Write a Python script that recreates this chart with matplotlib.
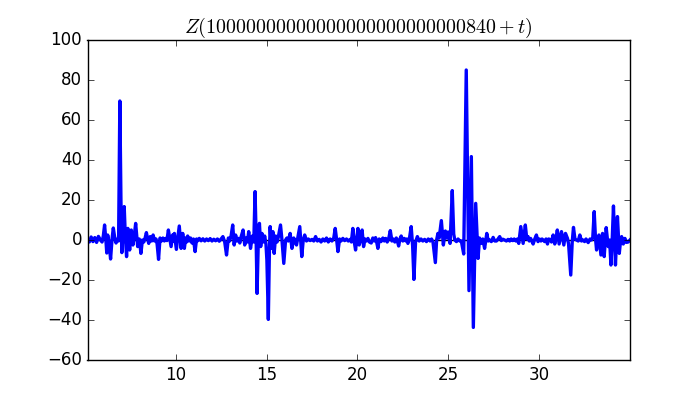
import numpy as np
import matplotlib
matplotlib.use('Agg')
import matplotlib.pyplot as plt

plt.style.use('classic')

# values: t offset and Z value
t = [5.15, 5.25, 5.35, 5.45, 5.55, 5.65, 5.75, 5.85, 5.95, 6.02,
     6.09, 6.17, 6.21, 6.26, 6.33, 6.42, 6.5, 6.57, 6.65, 6.72,
     6.8, 6.86, 6.93, 6.99, 7.04, 7.1, 7.17, 7.23, 7.3, 7.37,
     7.47, 7.56, 7.65, 7.72, 7.8, 7.91, 8.0, 8.09, 8.17, 8.25,
     8.32, 8.39, 8.46, 8.52, 8.6, 8.68, 8.76, 8.84, 8.92, 8.98,
     9.06, 9.14, 9.22, 9.3, 9.38, 9.45, 9.52, 9.6, 9.68, 9.75,
     9.83, 9.88, 9.93, 10.04, 10.12, 10.2, 10.3, 10.39, 10.48, 10.55,
     10.6, 10.66, 10.74, 10.82, 10.9, 10.98, 11.07, 11.15, 11.2, 11.3,
     11.4, 11.5, 11.6, 11.7, 11.8, 11.9, 12.0, 12.1, 12.2, 12.3,
     12.4, 12.5, 12.6, 12.7, 12.8, 12.9, 12.97, 13.05, 13.14, 13.22,
     13.3, 13.38, 13.46, 13.53, 13.6, 13.71, 13.8, 13.88, 13.95, 14.02,
     14.12, 14.22, 14.3, 14.37, 14.42, 14.48, 14.55, 14.61, 14.68, 14.75,
     14.82, 14.9, 14.97, 15.02, 15.1, 15.16, 15.2, 15.27, 15.35, 15.42,
     15.5, 15.58, 15.65, 15.77, 15.85, 15.95, 16.05, 16.12, 16.2, 16.3,
     16.4, 16.5, 16.58, 16.65, 16.72, 16.83, 16.94, 17.02, 17.1, 17.2,
     17.3, 17.4, 17.5, 17.6, 17.7, 17.8, 17.9, 18.0, 18.1, 18.2,
     18.3, 18.4, 18.5, 18.6, 18.7, 18.78, 18.86, 18.93, 19.02, 19.1,
     19.2, 19.3, 19.4, 19.5, 19.6, 19.67, 19.75, 19.83, 19.9, 19.97,
     20.03, 20.1, 20.17, 20.26, 20.34, 20.42, 20.5, 20.58, 20.66, 20.76,
     20.85, 20.93, 21.0, 21.06, 21.13, 21.2, 21.3, 21.4, 21.48, 21.56,
     21.64, 21.72, 21.81, 21.9, 21.98, 22.06, 22.14, 22.2, 22.27, 22.34,
     22.41, 22.5, 22.58, 22.66, 22.72, 22.78, 22.86, 22.96, 23.04, 23.11,
     23.2, 23.3, 23.4, 23.5, 23.6, 23.7, 23.8, 23.9, 24.0, 24.08,
     24.16, 24.29, 24.36, 24.43, 24.5, 24.62, 24.73, 24.84, 24.92, 24.99,
     25.1, 25.22, 25.3, 25.36, 25.45, 25.54, 25.63, 25.72, 25.85, 25.99,
     26.14, 26.27, 26.38, 26.51, 26.64, 26.72, 26.82, 26.9, 27.0, 27.12,
     27.2, 27.28, 27.37, 27.47, 27.56, 27.65, 27.74, 27.83, 27.92, 28.0,
     28.1, 28.2, 28.29, 28.38, 28.46, 28.55, 28.63, 28.72, 28.8, 28.88,
     28.99, 29.12, 29.24, 29.32, 29.39, 29.46, 29.53, 29.6, 29.67, 29.76,
     29.85, 29.94, 30.02, 30.1, 30.16, 30.22, 30.3, 30.38, 30.46, 30.52,
     30.59, 30.68, 30.77, 30.86, 30.93, 31.0, 31.1, 31.23, 31.36, 31.45,
     31.56, 31.62, 31.74, 31.82, 31.89, 31.97, 32.06, 32.15, 32.24, 32.33,
     32.42, 32.5, 32.58, 32.65, 32.7, 32.8, 32.88, 32.95, 33.03, 33.1,
     33.16, 33.23, 33.29, 33.4, 33.49, 33.58, 33.69, 33.8, 33.88, 33.95,
     34.02, 34.09, 34.15, 34.2, 34.26, 34.31, 34.41, 34.48, 34.54, 34.63,
     34.72, 34.8, 34.9, 35.0]

z = [0.5, -1.0, 1.5, -0.8, 1.2, -1.2, 1.8, 0.2, -1.0, 2.0,
     7.5, -1.0, -6.5, 2.5, -1.0, -9.5, 0.5, 6.0, 1.0, -1.5,
     0.5, -0.5, 69.5, 20.0, -6.3, 3.0, 16.7, 2.0, -8.3, 5.8,
     -5.0, 5.0, -2.5, 2.0, 8.3, -3.3, 0.5, -6.7, 0.0, -1.0,
     1.0, 3.7, 0.5, -1.7, 1.7, -0.5, 2.5, -0.5, 0.5, -2.0,
     -9.7, 1.0, -0.5, 1.0, -0.5, 0.8, -0.3, 5.0, 0.5, -3.3,
     2.5, -0.5, 3.3, -4.7, 1.0, 7.0, -4.2, 3.3, -4.2, 1.0,
     -1.0, 2.0, -0.5, 1.0, -1.5, 0.5, -5.8, 0.5, -0.5, 0.8,
     -0.4, 0.6, -0.5, 0.5, -0.3, 0.7, -0.5, 0.4, -0.4, 0.5,
     -0.6, 0.5, 1.7, -1.0, -7.5, 1.0, -0.5, 2.0, 7.5, -2.5,
     2.5, -0.5, 0.8, -1.5, 1.5, 5.0, -2.5, 1.0, -1.0, 4.2,
     -4.2, 2.0, -1.0, 24.2, 5.0, -26.7, 0.0, 8.3, -3.3, 3.3,
     -1.0, 2.0, -2.0, -10.0, -39.7, -5.0, 6.7, -4.2, 4.2, -6.7,
     2.0, -1.0, 1.5, 7.5, 0.0, -11.7, 0.0, 1.0, -0.5, 3.3,
     -4.2, 1.0, -1.0, -2.5, 1.0, 6.7, -8.3, 0.0, 2.5, -0.5,
     0.5, -0.3, 0.3, -0.5, 1.7, -0.5, 0.3, -1.0, 0.5, -0.5,
     1.0, -1.0, 0.5, -0.5, 1.0, 5.8, 0.0, -5.8, 0.5, -0.5,
     0.8, -0.3, 0.5, -0.5, 0.3, -1.0, 5.8, -1.0, -5.0, 1.0,
     5.8, -2.5, 0.0, 5.0, -3.3, 0.5, -0.5, 0.8, -1.0, -1.5,
     1.0, -0.5, 1.2, -1.0, -4.2, 0.5, -0.8, 1.0, -0.5, 0.8,
     -1.0, 0.5, 4.7, -0.5, 0.5, -1.0, 1.0, -0.5, -3.0, 0.5,
     2.0, -0.5, 0.8, -0.5, 0.5, -1.7, 0.5, 6.7, -3.0, -19.7,
     -1.0, 1.7, -0.5, 0.5, -0.5, 0.3, -0.8, 0.5, -0.5, 0.5,
     -1.0, -11.3, 0.0, 3.3, 1.0, 9.7, -2.5, 4.5, 1.0, 4.0,
     -1.7, 24.7, 3.0, 0.0, -0.8, 0.5, -0.5, -0.5, -7.0, 85.0,
     -25.3, 41.7, -43.7, 18.3, -9.2, 1.0, -1.7, 0.5, -4.2, 3.3,
     -0.5, 0.0, -0.8, 1.3, -0.5, -0.5, 0.5, 1.7, -0.3, 0.4,
     0.0, -0.5, 0.3, -0.5, 0.5, -0.3, 0.5, -0.5, 0.5, -1.7,
     6.7, -1.7, 7.5, 0.5, 1.7, -0.5, 0.8, -0.5, -2.0, 0.5,
     2.5, -0.8, 0.5, -0.5, 0.5, 0.0, -0.8, 0.5, -2.0, 0.5,
     0.3, -1.0, 2.5, -2.0, 1.0, 5.0, -2.0, 4.2, -2.5, 3.3,
     0.8, -2.0, -17.5, -1.0, 6.3, 0.5, 0.0, -0.5, 2.5, -0.5,
     0.0, -0.8, 0.5, -0.5, -1.3, 0.5, 0.0, 1.0, 14.2, 1.0,
     -5.0, 0.0, 2.5, -7.5, 3.3, -8.3, 6.2, -3.3, 0.0, -12.5,
     0.0, 17.0, 0.0, -12.5, 0.0, 11.7, -6.7, -0.5, 1.7, -2.0,
     0.8, -1.2, -1.0, 0.0]

title = r'$Z(10000000000000000000000000840+t)$'

fig = plt.figure(figsize=(7, 4), dpi=100)
ax = fig.add_subplot(111)
ax.axhline(0, color='k', lw=1)
ax.plot(t, z, color='b', lw=2.4)
ax.set_xlim(5.15, 35.0)
ax.set_ylim(-60, 100)
ax.set_xticks([10, 15, 20, 25, 30])
ax.set_title(title)

fig.savefig('out.png', dpi=100)
